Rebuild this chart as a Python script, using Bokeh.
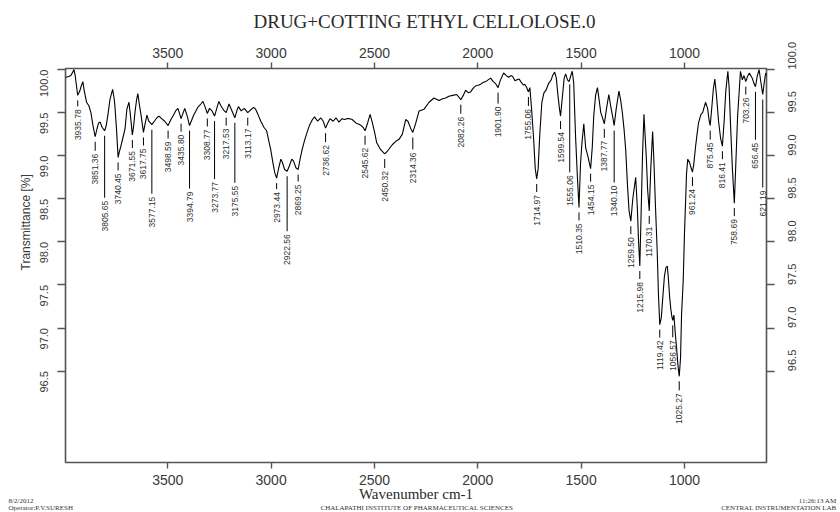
import math
import numpy as np
from bokeh.plotting import figure
from bokeh.models import (Range1d, LinearAxis, FixedTicker, Title,
                          ColumnDataSource, PrintfTickFormatter)
from bokeh.core.properties import value
from bokeh.embed import file_html
from bokeh.resources import INLINE

# ---------------- data ----------------
wavenumber = [
    3995, 3978, 3969, 3960, 3954, 3948, 3944, 3935.78, 3926, 3920, 3911, 3904,
    3893, 3882, 3872, 3862, 3851.36, 3843, 3835, 3827, 3818, 3805.65, 3798,
    3790, 3780, 3767, 3760, 3756, 3748, 3740.45, 3734, 3727, 3716, 3707, 3698,
    3688, 3680, 3671.55, 3665, 3659, 3651, 3645, 3638, 3630, 3617.75, 3609,
    3601, 3592, 3577.15, 3565, 3553, 3543, 3530, 3515, 3498.59, 3485, 3475,
    3462, 3451, 3435.8, 3418, 3405, 3394.79, 3375, 3355, 3340, 3330, 3320,
    3308.77, 3298, 3286, 3273.77, 3263, 3253, 3243, 3230, 3217.53, 3204, 3195,
    3175.55, 3165, 3158, 3145, 3130, 3113.17, 3100, 3085, 3075, 3064, 3050,
    3035, 3022, 3012, 3002, 2990, 2982, 2973.44, 2965, 2953, 2945, 2935,
    2922.56, 2912, 2900, 2892, 2880, 2869.25, 2860, 2850, 2838, 2826, 2815,
    2800, 2790, 2775, 2760, 2748, 2736.62, 2726, 2715, 2700, 2686, 2672, 2657,
    2645, 2633, 2620, 2608, 2590, 2570, 2555, 2545.62, 2533, 2521, 2510, 2500,
    2489, 2470, 2450.32, 2435, 2413, 2395, 2381, 2365, 2349, 2338, 2325,
    2314.36, 2300, 2284, 2260, 2236, 2212, 2188, 2170, 2155, 2140, 2121, 2102,
    2082.26, 2070, 2059, 2045, 2035, 2020, 2010, 1995, 1986, 1975, 1962, 1950,
    1938, 1925, 1915, 1901.9, 1890, 1875, 1862, 1851, 1840, 1831, 1820, 1812,
    1800, 1792, 1780, 1773, 1765, 1755.06, 1748, 1740, 1730, 1722, 1714.97,
    1708, 1700, 1690, 1680, 1670, 1657, 1645, 1638, 1628, 1620, 1613, 1605,
    1599.54, 1592, 1582, 1575, 1566, 1558, 1550, 1543, 1536, 1527, 1518,
    1510.35, 1503, 1496, 1487, 1478, 1468, 1454.15, 1446, 1439, 1430, 1421,
    1413, 1405, 1398, 1387.77, 1377, 1366, 1355, 1347, 1340.1, 1330, 1317,
    1309, 1300, 1292, 1284, 1276, 1268, 1259.5, 1250, 1236, 1228, 1222,
    1215.98, 1210, 1203, 1196, 1185, 1178, 1170.31, 1163, 1154, 1148, 1140,
    1132, 1126, 1119.42, 1112, 1105, 1097, 1090, 1083, 1077, 1072, 1066, 1060,
    1056.57, 1051, 1043, 1038, 1032, 1025.27, 1019, 1014, 1006, 1000, 994, 990,
    984, 975, 968, 961.24, 955, 946, 939, 932, 920, 912, 898, 888, 880, 875.45,
    868, 860, 853, 845, 835, 825, 816.41, 808, 800, 790, 784, 776, 768, 758.69,
    750, 743, 729, 720, 712, 703.26, 695, 686, 672, 664, 656.45, 648, 639, 630,
    621.19, 614, 607, 603,
]
transmittance = [
    99.91, 99.92, 99.93, 99.97, 100.00, 99.93, 99.85, 99.70, 99.75, 99.80, 99.86, 99.75,
    99.62, 99.58, 99.50, 99.35, 99.22, 99.31, 99.38, 99.39, 99.33, 99.29, 99.35,
    99.47, 99.65, 99.77, 99.67, 99.58, 99.30, 98.98, 99.05, 99.11, 99.22, 99.31, 99.54,
    99.62, 99.45, 99.24, 99.35, 99.50, 99.65, 99.72, 99.60, 99.48, 99.27, 99.38,
    99.47, 99.40, 99.36, 99.40, 99.44, 99.46, 99.43, 99.40, 99.35, 99.42, 99.46,
    99.52, 99.55, 99.43, 99.55, 99.45, 99.35, 99.47, 99.56, 99.60, 99.63, 99.57,
    99.49, 99.55, 99.52, 99.46, 99.55, 99.63, 99.58, 99.53, 99.50, 99.60, 99.55,
    99.44, 99.53, 99.57, 99.52, 99.55, 99.50, 99.53, 99.56, 99.54, 99.48, 99.40,
    99.33, 99.29, 99.18, 99.07, 98.90, 98.80, 98.74, 98.84, 98.96, 98.92, 98.84,
    98.82, 98.88, 98.96, 98.94, 98.86, 98.84, 98.96, 99.07, 99.18, 99.27, 99.35,
    99.42, 99.45, 99.40, 99.44, 99.40, 99.32, 99.38, 99.43, 99.40, 99.44, 99.39, 99.43,
    99.42, 99.43, 99.43, 99.42, 99.38, 99.36, 99.33, 99.29, 99.38, 99.48, 99.38, 99.28,
    99.15, 99.07, 99.02, 99.06, 99.13, 99.17, 99.19, 99.25, 99.42, 99.40, 99.32,
    99.27, 99.38, 99.52, 99.54, 99.62, 99.67, 99.64, 99.66, 99.67, 99.69, 99.70, 99.71,
    99.65, 99.70, 99.76, 99.73, 99.74, 99.79, 99.81, 99.82, 99.83, 99.85, 99.86, 99.88,
    99.90, 99.86, 99.84, 99.79, 99.88, 99.96, 99.93, 99.91, 99.93, 99.92, 99.87, 99.88,
    99.89, 99.86, 99.82, 99.83, 99.80, 99.74, 99.79, 99.55, 99.20, 98.85, 98.73,
    98.85, 99.25, 99.62, 99.73, 99.76, 99.84, 99.88, 99.93, 99.97, 99.90, 99.72, 99.55,
    99.46, 99.65, 99.90, 99.95, 99.88, 99.86, 99.93, 99.98, 99.85, 99.23, 98.75,
    98.40, 98.90, 99.15, 99.37, 99.09, 99.00, 98.85, 99.10, 99.46, 99.70, 99.79,
    99.65, 99.50, 99.45, 99.37, 99.55, 99.71, 99.55, 99.45, 99.35, 99.55, 99.75,
    99.65, 99.49, 99.30, 99.06, 98.67, 98.36, 98.24, 98.50, 98.75, 98.40, 98.00,
    97.72, 98.30, 99.00, 99.48, 99.00, 98.60, 98.36, 98.85, 99.28, 98.95, 98.40,
    97.90, 97.40, 97.04, 97.12, 97.35, 97.60, 97.70, 97.72, 97.55, 97.37, 97.22, 97.12,
    97.09, 97.15, 96.90, 96.77, 96.58, 96.44, 96.65, 97.16, 97.55, 98.09, 98.50, 98.79,
    98.96, 98.92, 98.86, 98.81, 98.90, 99.11, 99.25, 99.38, 99.48, 99.50, 99.62, 99.55, 99.40, 99.35,
    99.55, 99.78, 99.89, 99.70, 99.40, 99.20, 99.11, 99.40, 99.75, 99.98, 99.80, 99.30, 98.85, 98.45,
    99.00, 99.45, 99.98, 99.88, 99.93, 99.86, 99.92, 99.96, 99.90, 99.84, 99.80, 99.92, 100.00, 99.85,
    99.71, 99.85, 99.96, 99.93,
]

peak_wavenumbers = [
    3935.78, 3851.36, 3805.65, 3740.45, 3671.55, 3617.75, 3577.15, 3498.59,
    3435.80, 3394.79, 3308.77, 3273.77, 3217.53, 3175.55, 3113.17, 2973.44,
    2922.56, 2869.25, 2736.62, 2545.62, 2450.32, 2314.36, 2082.26, 1901.90,
    1755.06, 1714.97, 1599.54, 1555.06, 1510.35, 1454.15, 1387.77, 1340.10,
    1259.50, 1215.98, 1170.31, 1119.42, 1056.57, 1025.27, 961.24, 875.45,
    816.41, 758.69, 703.26, 656.45, 621.19,
]
# leader-line length under each peak, in screen pixels (layout only)
leader_px = [
    6, 9, 62, 8, 8, 8, 64, 8,
    8, 58, 8, 58, 8, 60, 8, 6,
    55, 7, 9, 9, 9, 12, 9, 11,
    9, 8, 8, 88, 8, 8, 9, 52,
    8, 8, 8, 8, 12, 9, 9, 9,
    8, 8, 8, 48, 88,
]

x_ticks = [3500, 3000, 2500, 2000, 1500, 1000]
y_ticks = [96.5, 97.0, 97.5, 98.0, 98.5, 99.0, 99.5, 100.0]

title_text = "DRUG+COTTING ETHYL CELLOLOSE.0"
x_title = "Wavenumber cm-1"
y_title = "Transmittance [%]"
footer_left = ["8/2/2012", "Operator:P.V.SURESH"]
footer_mid = "CHALAPATHI INSTITUTE OF PHARMACEUTICAL SCIENCES"
footer_right = ["11:26:13 AM", "CENTRAL INSTRUMENTATION LAB"]

# ---------------- figure ----------------
X_START, X_END = 3995, 603
Y_MIN, Y_MAX = 95.44, 100.012
W, H = 840, 512
BL, BR, BT, BB = 65, 74, 68, 50
frame_h = H - BT - BB
t_per_px = (Y_MAX - Y_MIN) / frame_h

SANS = "Liberation Sans"
SERIF = "Liberation Serif"
AX_COL = "#555555"
TXT_COL = "#3a3a3a"

p = figure(width=W, height=H, output_backend="svg", toolbar_location=None,
           x_range=Range1d(X_START, X_END), y_range=Range1d(Y_MIN, Y_MAX),
           x_axis_location=None, y_axis_location=None, title=None,
           min_border_left=BL, min_border_right=BR,
           min_border_top=BT, min_border_bottom=BB)
p.grid.visible = False
p.outline_line_color = AX_COL
p.outline_line_width = 1.6
p.background_fill_color = "white"
p.border_fill_color = "white"


def make_x_axis(side, standoff):
    ax = LinearAxis(ticker=FixedTicker(ticks=x_ticks))
    ax.axis_line_color = None
    ax.major_tick_line_color = AX_COL
    ax.major_tick_line_width = 1.4
    ax.major_tick_out = 6
    ax.major_tick_in = 0
    ax.minor_tick_line_color = None
    ax.major_label_text_font = SANS
    ax.major_label_text_font_size = "14px"
    ax.major_label_text_color = TXT_COL
    ax.major_label_standoff = standoff
    p.add_layout(ax, side)
    return ax


def make_y_axis(side, standoff):
    ax = LinearAxis(ticker=FixedTicker(ticks=y_ticks),
                    formatter=PrintfTickFormatter(format="%.1f"))
    ax.axis_line_color = None
    ax.major_tick_line_color = AX_COL
    ax.major_tick_line_width = 1.4
    ax.major_tick_out = 8
    ax.major_tick_in = 0
    ax.minor_tick_line_color = None
    ax.major_label_text_font = SANS
    ax.major_label_text_font_size = "11px"
    ax.major_label_text_color = TXT_COL
    ax.major_label_orientation = math.pi / 2
    ax.major_label_standoff = standoff
    p.add_layout(ax, side)
    return ax


bottom = make_x_axis("below", 6)
bottom.axis_label = x_title
bottom.axis_label_text_font = SERIF
bottom.axis_label_text_font_size = "15px"
bottom.axis_label_text_font_style = "normal"
bottom.axis_label_text_color = "#2a2a2a"
bottom.axis_label_standoff = -2
make_x_axis("above", 5)
make_y_axis("left", 13)
make_y_axis("right", 18)

# main title (above the top axis)
p.add_layout(Title(text=title_text, align="left", offset=188,
                   vertical_align="top", standoff=21,
                   text_font=SERIF, text_font_size="19px",
                   text_font_style="normal", text_color="#2a2a2a"), "above")

# y axis title, centred on the tick span as in the original
p.add_layout(Title(text=y_title, align="left", offset=192,
                   vertical_align="middle", standoff=0,
                   text_font=SANS, text_font_size="12px",
                   text_font_style="normal", text_color=TXT_COL), "left")

# footer texts (two lines, zero-height rows under the x axis)
foot = dict(vertical_align="middle", standoff=-17, text_font=SERIF,
            text_font_size="7px", text_font_style="normal",
            text_line_height=0.8, text_color="#333333")
p.add_layout(Title(text="\n".join(footer_left), align="left", offset=-57,
                   **foot), "below")
p.add_layout(Title(text="\n" + footer_mid, align="left", offset=255,
                   **foot), "below")
p.add_layout(Title(text=footer_right[0] + "\n", align="right", offset=-70,
                   **foot), "below")
p.add_layout(Title(text="\n" + footer_right[1], align="right", offset=-70,
                   **foot), "below")

# spectrum
p.line(wavenumber, transmittance, line_color="black", line_width=1.1)

# peak annotations
wn_arr = np.array(wavenumber)[::-1]
t_arr = np.array(transmittance)[::-1]
peak_t = np.interp(peak_wavenumbers, wn_arr, t_arr)
gap_px, text_gap_px = 5, 3
lead = np.array(leader_px, dtype=float)
src = ColumnDataSource(dict(
    x=peak_wavenumbers,
    y0=peak_t - gap_px * t_per_px,
    y1=peak_t - (gap_px + lead) * t_per_px,
    yt=peak_t - (gap_px + lead + text_gap_px) * t_per_px,
    label=["%.2f" % w for w in peak_wavenumbers],
))
p.segment(x0="x", y0="y0", x1="x", y1="y1", source=src,
          line_color="black", line_width=1)
p.text(x="x", y="yt", text="label", source=src, angle=math.pi / 2,
       text_align="right", text_baseline="middle",
       text_font=value(SANS), text_font_size="8.5px", text_color="#303030")

open("out.html", "w").write(file_html(p, INLINE))
